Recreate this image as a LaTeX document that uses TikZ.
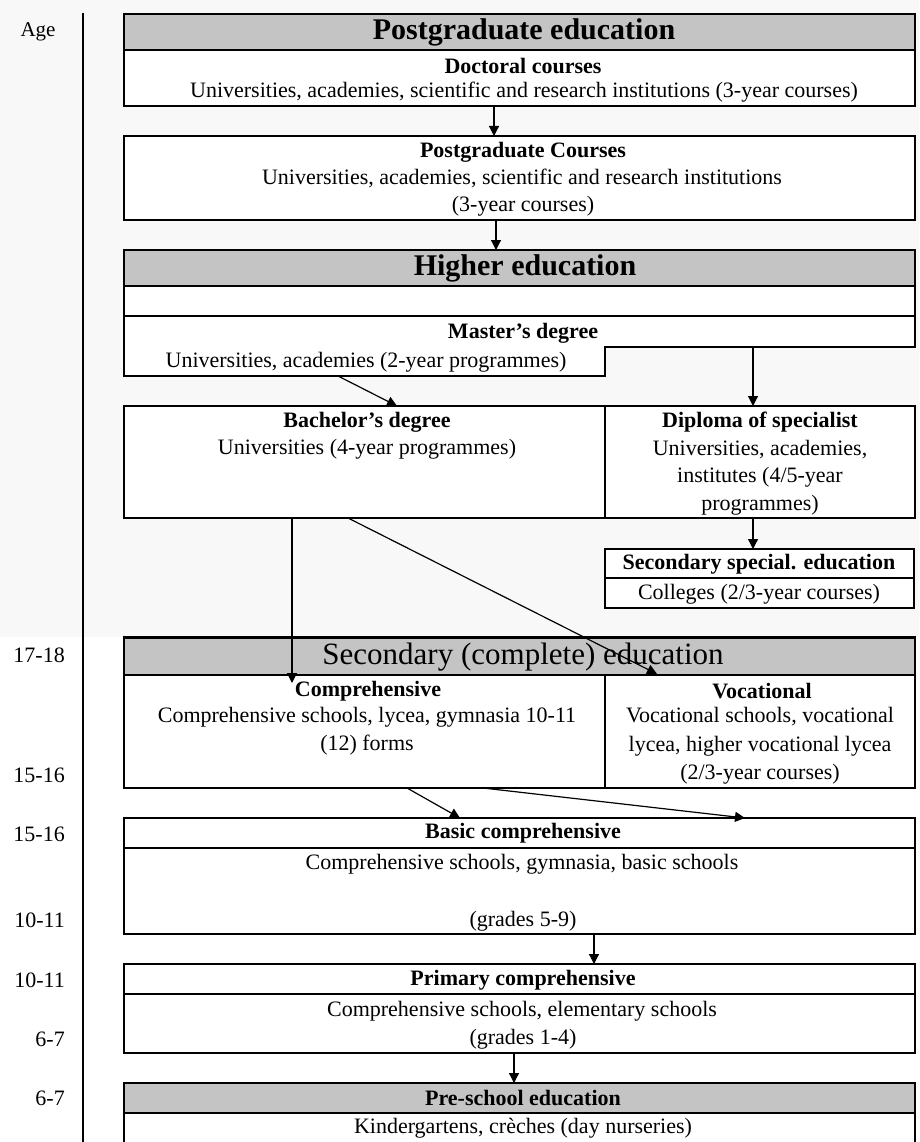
\documentclass[tikz,border=0pt]{standalone}
\usepackage{fontspec}
\setmainfont{Liberation Serif}
\usetikzlibrary{arrows.meta}
\definecolor{hdr}{RGB}{196,196,196}
\definecolor{bgtop}{RGB}{248,248,248}
\begin{document}
\begin{tikzpicture}[x=1pt,y=-1pt,
  box/.style={draw=black, line width=1.6pt, fill=white, inner sep=0pt, outer sep=0pt, rectangle, anchor=north west},
  hdrbox/.style={box, fill=hdr},
  ghost/.style={inner sep=0pt, outer sep=0pt, rectangle, anchor=north west},
  txt/.style={inner sep=0pt, font=\fontsize{22}{26}\selectfont},
  btxt/.style={inner sep=0pt, font=\fontsize{22}{26}\selectfont\bfseries},
  bigb/.style={inner sep=0pt, font=\fontsize{30}{36}\selectfont\bfseries},
  bigr/.style={inner sep=0pt, font=\fontsize{31}{36}\selectfont},
  agetxt/.style={inner sep=0pt, anchor=east, font=\fontsize{22}{26}\selectfont},
  arr/.style={line width=1.2pt, -{Triangle[length=10pt,width=10pt]}},
  ]
\useasboundingbox (0,0) rectangle (919,1142);
\fill[white] (0,0) rectangle (919,1142);
\fill[bgtop] (0,0) rectangle (919,637);

% age axis
\coordinate (axtop) at (83,13);
\coordinate (axbot) at (83,1146);
\draw[line width=1.6pt] (axtop) -- (axbot);
\node[inner sep=0pt, font=\fontsize{21}{25}\selectfont] (age) at (38,32) {Age};
\node[agetxt] (a1) at (65,655) {17-18};
\node[agetxt] (a2) at (65,775) {15-16};
\node[agetxt] (a3) at (65,834) {15-16};
\node[agetxt] (a4) at (65,920) {10-11};
\node[agetxt] (a5) at (65,980) {10-11};
\node[agetxt] (a6) at (65,1039) {6-7};
\node[agetxt] (a7) at (65,1098) {6-7};

% boxes
\node[hdrbox, minimum width=791pt, minimum height=36pt] (pgh) at (124,14) {};
\node[box, minimum width=791pt, minimum height=56pt] (doc) at (124,50) {};
\node[box, minimum width=791pt, minimum height=84pt] (pgc) at (124,136) {};
\node[hdrbox, minimum width=791pt, minimum height=36pt] (heh) at (124,250) {};
\node[box, minimum width=791pt, minimum height=30pt] (hemp) at (124,286) {};
\node[ghost, minimum width=481pt, minimum height=60pt] (master) at (124,316) {};
\node[ghost, minimum width=310pt, minimum height=31pt] (masterR) at (605,316) {};
\draw[line width=1.6pt, fill=white] (master.north west) -- (masterR.north east) -- (masterR.south east)
  -- (masterR.south west) -- (master.south east) -- (master.south west) -- cycle;
\node[box, minimum width=481pt, minimum height=112pt] (bach) at (124,406) {};
\node[box, minimum width=310pt, minimum height=112pt] (dipl) at (605,406) {};
\node[box, minimum width=309pt, minimum height=29pt] (ssh) at (605,549) {};
\node[box, minimum width=309pt, minimum height=30pt] (ssr) at (605,578) {};
\node[hdrbox, minimum width=791pt, minimum height=38pt] (sech) at (124,637) {};
\draw[line width=3pt] (sech.north west) -- (sech.north east);
\node[box, minimum width=481pt, minimum height=113pt] (comp) at (124,675) {};
\node[box, minimum width=310pt, minimum height=113pt] (voc) at (605,675) {};
\node[box, minimum width=791pt, minimum height=30pt] (bch) at (124,818) {};
\node[box, minimum width=791pt, minimum height=86pt] (bcb) at (124,848) {};
\node[box, minimum width=791pt, minimum height=30pt] (prh) at (124,964) {};
\node[box, minimum width=791pt, minimum height=59pt] (prb) at (124,994) {};
\node[hdrbox, minimum width=791pt, minimum height=30pt] (psh) at (124,1083) {};
\node[box, minimum width=791pt, minimum height=34pt] (psb) at (124,1113) {};

% texts
\node[bigb] (t1) at (524,32) {Postgraduate education};
\node[btxt] (t2) at (523,66) {Doctoral courses};
\node[txt] (t3) at (524,92) {Universities, academies, scientific and research institutions (3-year courses)};
\node[btxt] (t4) at (523,152) {Postgraduate Courses};
\node[txt] (t5) at (522,178) {Universities, academies, scientific and research institutions};
\node[txt] (t6) at (523,206) {(3-year courses)};
\node[bigb] (t7) at (525,268) {Higher education};
\node[btxt] (t8) at (523,333) {Master’s degree};
\node[txt] (t9) at (366,362) {Universities, academies (2-year programmes)};
\node[btxt] (t10) at (367,422) {Bachelor’s degree};
\node[txt] (t11) at (367,449) {Universities (4-year programmes)};
\node[btxt] (t12) at (760,422) {Diploma of specialist};
\node[txt] (t13) at (760,450) {Universities, academies,};
\node[txt] (t14) at (760,477) {institutes (4/5-year};
\node[txt] (t15) at (760,505) {programmes)};
\node[btxt] (t16) at (759,564) {Secondary special. education};
\node[txt] (t17) at (759,594) {Colleges (2/3-year courses)};
\node[bigr] (t18) at (523,657) {Secondary (complete) education};
\node[btxt] (t19) at (368,691) {Comprehensive};
\node[txt] (t20) at (367,717) {Comprehensive schools, lycea, gymnasia 10-11};
\node[txt] (t21) at (367,745) {(12) forms};
\node[btxt] (t22) at (762,691) {Vocational};
\node[txt] (t23) at (760,717) {Vocational schools, vocational};
\node[txt] (t24) at (760,746) {lycea, higher vocational lycea};
\node[txt] (t25) at (760,774) {(2/3-year courses)};
\node[btxt] (t26) at (523,833) {Basic comprehensive};
\node[txt] (t27) at (522,864) {Comprehensive schools, gymnasia, basic schools};
\node[txt] (t28) at (523,921) {(grades 5-9)};
\node[btxt] (t29) at (523,980) {Primary comprehensive};
\node[txt] (t30) at (522,1011) {Comprehensive schools, elementary schools};
\node[txt] (t31) at (523,1039) {(grades 1-4)};
\node[btxt] (t32) at (523,1098) {Pre-school education};
\node[txt] (t33) at (523,1128) {Kindergartens, crèches (day nurseries)};

% connectors
\coordinate (compin) at (292,683);
\coordinate (vocin) at (657,674);
\draw[arr] (494,0 |- doc.south) -- (494,0 |- pgc.north);
\draw[arr] (496,0 |- pgc.south) -- (496,0 |- heh.north);
\draw[arr] (338,0 |- master.south) -- (397,0 |- bach.north);
\draw[arr] (753,0 |- masterR.south) -- (753,0 |- dipl.north);
\draw[arr] (753,0 |- dipl.south) -- (753,0 |- ssh.north);
\draw[arr] (292,0 |- bach.south) -- (compin);
\draw[arr] (348,0 |- bach.south) -- (vocin);
\draw[arr] (407,0 |- comp.south) -- (460,0 |- bch.north);
\draw[arr] (483,0 |- comp.south) -- (745,0 |- bch.north);
\draw[arr] (594,0 |- bcb.south) -- (594,0 |- prh.north);
\draw[arr] (514,0 |- prb.south) -- (514,0 |- psh.north);
\end{tikzpicture}
\end{document}
